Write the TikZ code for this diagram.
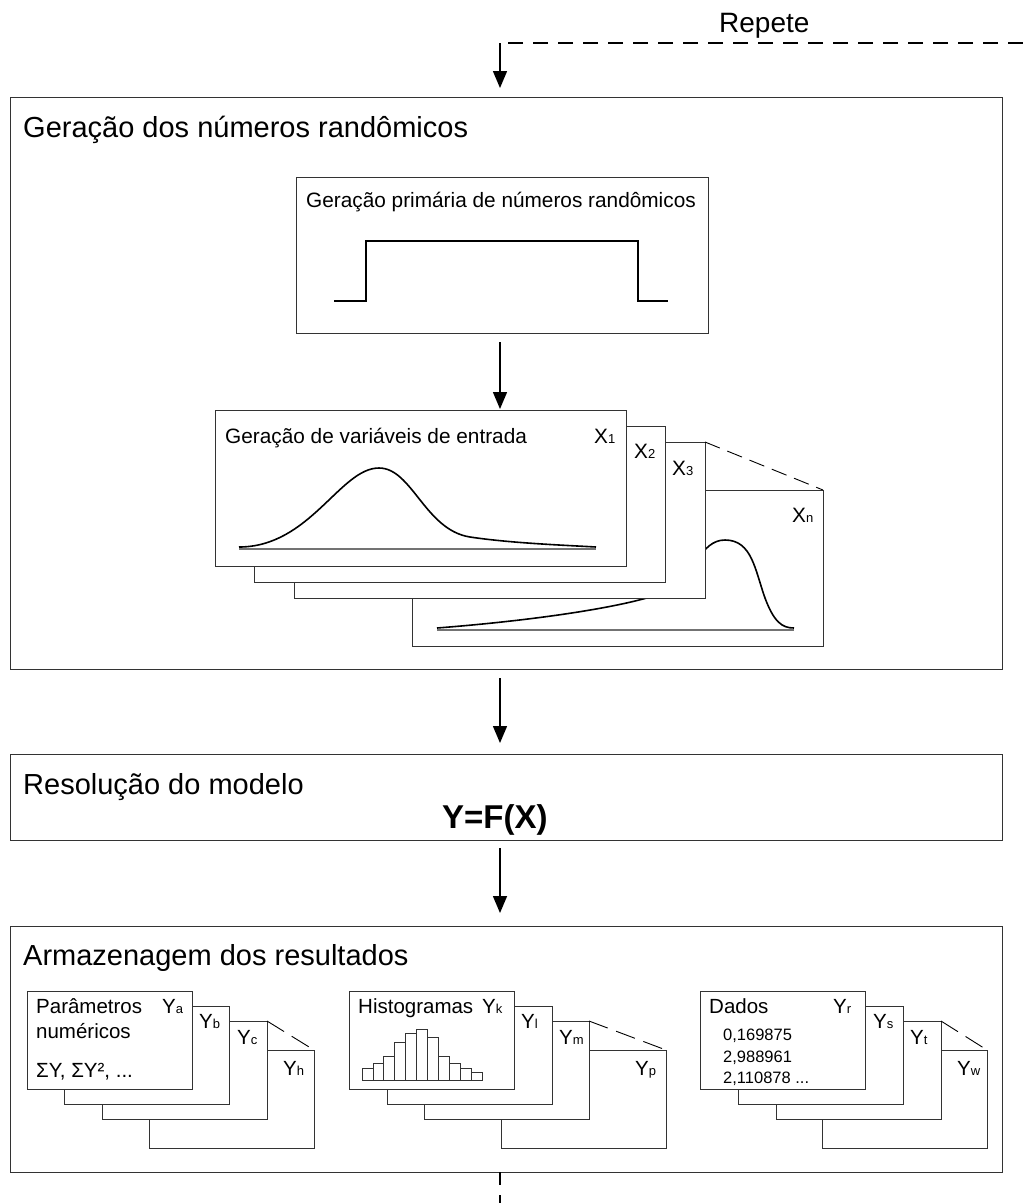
\documentclass[tikz,border=0pt]{standalone}
\usepackage{fontspec}
\setmainfont{Liberation Sans}
\usetikzlibrary{arrows.meta}
\newcommand{\fsz}[1]{\fontsize{#1}{#1}\selectfont}
\newcommand{\lab}[2]{#1{\fsz{13}#2}}
\begin{document}
\begin{tikzpicture}[x=1pt,y=-1pt,
  box/.style={draw=black!80, line width=1pt, fill=white, inner sep=0pt, outer sep=0pt, anchor=north west},
  bigbox/.style={box, minimum width=991.5pt},
  xcard/.style={box, minimum width=411pt, minimum height=156pt},
  ycard/.style={box, minimum width=165pt, minimum height=98pt},
  txt/.style={anchor=base west, inner sep=0pt, font=\fsz{20.5}},
  bigtxt/.style={anchor=base west, inner sep=0pt, font=\fsz{20.8}},
  numtxt/.style={anchor=base west, inner sep=0pt, font=\fsz{16.5}},
  ttl/.style={anchor=base west, inner sep=0pt, font=\fsz{29}},
  arr/.style={line width=1.5pt, -{Triangle[length=17pt,width=14pt]}},
  loopdash/.style={line width=2.2pt, dash pattern=on 15pt off 10pt},
  botdash/.style={line width=2pt, dash pattern=on 13pt off 10pt},
  xdash/.style={line width=0.9pt, dash pattern=on 16pt off 8pt},
  ydash/.style={line width=0.9pt, dash pattern=on 20pt off 9pt},
  crv/.style={line width=1.6pt, line join=round},
  axis/.style={line width=1.4pt, draw=black!55},
  bar/.style={draw=black!80, line width=0.8pt, fill=white}
]
\useasboundingbox (0,0) rectangle (1023,1203);

% ---------- big boxes ----------
\node[bigbox, minimum height=572pt] (box1) at (10.5,97) {};
\node[bigbox, minimum height=86pt] (box2) at (10.5,754) {};
\node[bigbox, minimum height=246pt] (box3) at (10.5,926) {};

\coordinate (ax) at (500,0);

% ---------- repeat loop ----------
\node[anchor=base west, inner sep=0pt, font=\fsz{28}] (rep) at (719,32) {Repete};
\coordinate (rr) at (1023,43);
\coordinate (rc) at (500,43);
\draw[loopdash] (rr) -- (rc);
\draw[arr, shorten >=9pt] (rc) -- (box1.north -| ax);

% ---------- box 1 ----------
\node[ttl] (t1) at (23,137) {Geração dos números randômicos};
\node[box, minimum width=412pt, minimum height=156pt] (prim) at (296,177) {};
\node[bigtxt] (primt) at (306,207) {Geração primária de números randômicos};
\draw[line width=2pt] (334,301) -- (366,301) -- (366,241) -- (638,241) -- (638,301) -- (668,301);

% cards X (back to front)
\node[xcard] (xn) at (412,490) {};
\draw[axis] (437,630) -- (794,630);
\draw[crv] (437,628) .. controls (540,620) and (630,606) .. (665,592)
  .. controls (695,575) and (700,540) .. (725,540)
  .. controls (752,540) and (755,570) .. (765,598)
  .. controls (774,622) and (782,628) .. (794,628);
\node[bigtxt] (xnt) at (792,522) {\lab{X}{n}};
\node[xcard] (x3) at (294,442) {};
\node[bigtxt] (x3t) at (672,475) {\lab{X}{3}};
\node[xcard] (x2) at (254,426) {};
\node[bigtxt] (x2t) at (634,458) {\lab{X}{2}};
\node[xcard] (x1) at (215,410) {};
\node[bigtxt] (x1tt) at (225,443) {Geração de variáveis de entrada};
\node[bigtxt] (x1t) at (594,443) {\lab{X}{1}};
\draw[axis] (239,549) -- (596,549);
\draw[crv] (239,547) .. controls (310,547) and (340,468) .. (379,468)
  .. controls (412,468) and (425,530) .. (470,537)
  .. controls (510,543) and (560,545) .. (596,547);
\draw[xdash] (x3.north east) -- (xn.north east);

\draw[arr, shorten <=9pt, shorten >=1pt] (prim.south -| ax) -- (x1.north -| ax);

% ---------- box 2 ----------
\draw[arr, shorten <=9pt, shorten >=11pt] (box1.south -| ax) -- (box2.north -| ax);
\node[ttl] (t2) at (23,794) {Resolução do modelo};
\node[anchor=base west, inner sep=0pt, font=\fsz{33}\bfseries] (yfx) at (442,828) {Y=F(X)};

% ---------- box 3 ----------
\draw[arr, shorten <=8pt, shorten >=13pt] (box2.south -| ax) -- (box3.north -| ax);
\node[ttl] (t3) at (23,965) {Armazenagem dos resultados};

% group 1
\node[ycard] (yh) at (149,1050) {};
\node[txt] (yht) at (283,1075) {\lab{Y}{h}};
\node[ycard] (yc) at (102,1021) {};
\node[txt] (yct) at (237,1044) {\lab{Y}{c}};
\node[ycard] (yb) at (64,1006) {};
\node[txt] (ybt) at (199,1028) {\lab{Y}{b}};
\node[ycard] (ya) at (27,991) {};
\node[txt] (yat) at (162,1013) {\lab{Y}{a}};
\node[txt] (par1) at (36,1013) {Parâmetros};
\node[txt] (par2) at (36,1038) {numéricos};
\node[txt] (par3) at (36,1077) {ΣY, ΣY², ...};
\draw[ydash] (yc.north east) -- (yh.north east);

% group 2
\node[ycard] (yp) at (501,1050) {};
\node[txt] (ypt) at (635,1075) {\lab{Y}{p}};
\node[ycard] (ym) at (424,1021) {};
\node[txt] (ymt) at (559,1044) {\lab{Y}{m}};
\node[ycard] (yl) at (387,1006) {};
\node[txt] (ylt) at (521,1028) {\lab{Y}{l}};
\node[ycard] (yk) at (349,991) {};
\node[txt] (his) at (358,1013) {Histogramas};
\node[txt] (ykt) at (482,1013) {\lab{Y}{k}};
\foreach \t [count=\i from 0] in {1068,1063,1056,1042,1033,1029,1037,1056,1063,1068,1072}{
  \draw[bar] (362+\i*10.9,1080) rectangle (362+\i*10.9+10.9,\t);
}
\draw[ydash] (ym.north east) -- (yp.north east);

% group 3
\node[ycard] (yw) at (822,1050) {};
\node[txt] (ywt) at (957,1075) {\lab{Y}{w}};
\node[ycard] (yt) at (776,1021) {};
\node[txt] (ytt) at (910,1044) {\lab{Y}{t}};
\node[ycard] (ys) at (738,1006) {};
\node[txt] (yst) at (873,1028) {\lab{Y}{s}};
\node[ycard] (yr) at (700,991) {};
\node[txt] (dad) at (709,1013) {Dados};
\node[txt] (yrt) at (833,1013) {\lab{Y}{r}};
\node[numtxt] (n1) at (723,1040) {0,169875};
\node[numtxt] (n2) at (723,1062) {2,988961};
\node[numtxt] (n3) at (723,1083) {2,110878 ...};
\draw[ydash] (yt.north east) -- (yw.north east);

% bottom dashed continuation
\coordinate (bend) at (498,1203);
\draw[botdash] (box3.south -| ax) -- (bend -| ax);
\end{tikzpicture}
\end{document}
